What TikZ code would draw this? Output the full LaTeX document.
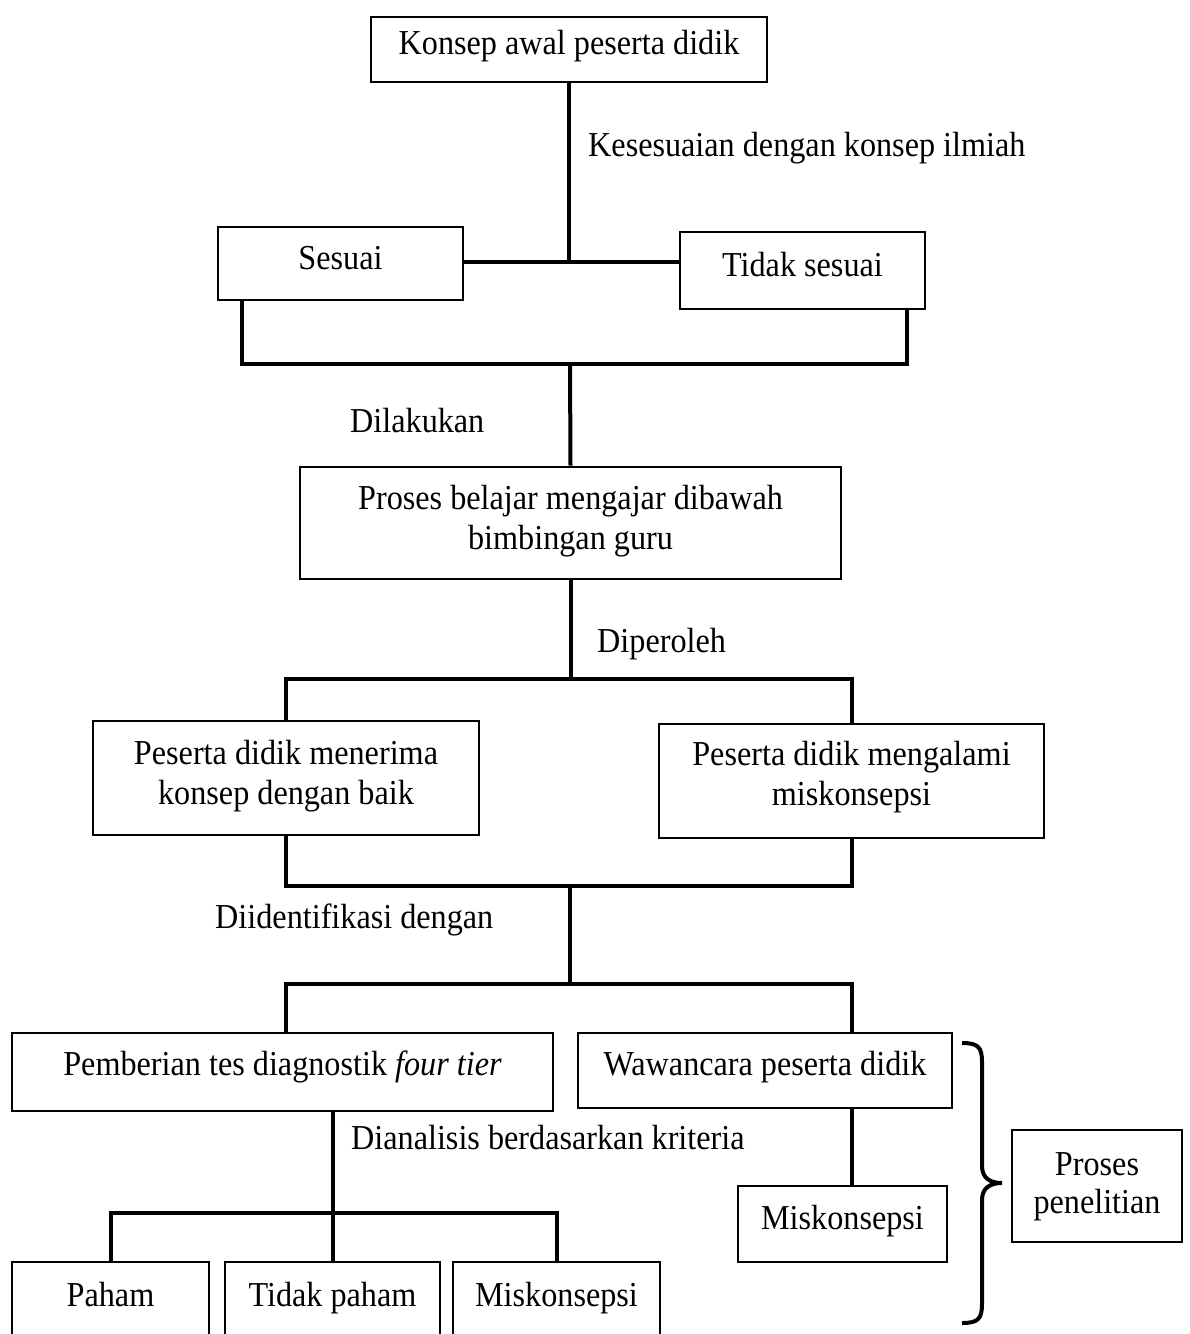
\documentclass[tikz,border=0pt]{standalone}
\usepackage{fontspec}
\setmainfont{Liberation Serif}[FakeStretch=0.92]
\newcommand{\twolines}[2]{\begin{tabular}[b]{@{}c@{}}#1\\#2\end{tabular}}
\begin{document}
\begin{tikzpicture}[x=1pt,y=-1pt,
  font=\fontsize{35}{40}\selectfont,
  box/.style={draw, line width=2.6pt, inner sep=0pt, anchor=base},
  conn/.style={line width=4pt},
  lbl/.style={inner sep=0pt, anchor=base west}]
\clip (0,0) rectangle (1190,1334);
\fill[white] (0,0) rectangle (1190,1334);

% boxes
\node[box, minimum width=396pt, text height=37pt, text depth=28pt] (k) at (569,54) {Konsep awal peserta didik};
\node[box, minimum width=245pt, text height=42pt, text depth=31pt] (s) at (340.5,269) {Sesuai};
\node[box, minimum width=245pt, text height=44pt, text depth=33pt] (t) at (802.5,276) {Tidak sesuai};
\node[box, minimum width=541pt, text height=82pt, text depth=30pt] (p) at (570.5,549) {\twolines{Proses belajar mengajar dibawah}{bimbingan guru}};
\node[box, minimum width=386pt, text height=83pt, text depth=31pt] (a) at (286,804) {\twolines{Peserta didik menerima}{konsep dengan baik}};
\node[box, minimum width=385pt, text height=81pt, text depth=33pt] (b) at (851.5,805) {\twolines{Peserta didik mengalami}{miskonsepsi}};
\node[box, minimum width=541pt, text height=42pt, text depth=36pt] (pm) at (282.5,1075) {Pemberian tes diagnostik \textit{four tier}};
\node[box, minimum width=374pt, text height=42pt, text depth=33pt] (ww) at (765,1075) {Wawancara peserta didik};
\node[box, minimum width=209pt, text height=43pt, text depth=33pt] (m2) at (842.5,1229) {Miskonsepsi};
\node[box, minimum width=170pt, text height=83pt, text depth=29pt] (pp) at (1097,1213) {\fontsize{35}{38}\selectfont\twolines{Proses}{penelitian}};
\node[box, minimum width=197pt, text height=44pt, text depth=74pt] (ph) at (110.5,1306) {Paham};
\node[box, minimum width=215pt, text height=44pt, text depth=74pt] (tp) at (332.5,1306) {Tidak paham};
\node[box, minimum width=207pt, text height=44pt, text depth=74pt] (mk) at (556.5,1306) {Miskonsepsi};

% labels
\node[lbl] (l1) at (588,156) {Kesesuaian dengan konsep ilmiah};
\node[lbl] (l2) at (350,432) {Dilakukan};
\node[lbl] (l3) at (597,652) {Diperoleh};
\node[lbl] (l4) at (215,928) {Diidentifikasi dengan};
\node[lbl] (l5) at (351,1149) {Dianalisis berdasarkan kriteria};

% connectors
\coordinate (j1) at (569,262);
\coordinate (j2) at (570,364);
\coordinate (j3) at (570,679);
\coordinate (j4) at (570,886);
\coordinate (j5) at (570,984);
\coordinate (d2) at (332.5,1213);
\draw[conn] (k.south) -- (j1);
\draw[conn] (s.east |- j1) -- (t.west |- j1);
\draw[conn] ([xshift=25pt]s.south west) |- (j2) -| ([xshift=-19pt]t.south east);
\draw[conn] (j2) -- (p.north);
\draw[conn] (p.south) -- (p.south |- j3);
\draw[conn] (a.north) |- (j3) -| (b.north);
\draw[conn] (a.south) |- (j4) -| (b.south);
\draw[conn] (j4) -- (j5);
\draw[conn] (pm.north -| a.south) |- (j5) -| (ww.north -| b.south);
\draw[conn] (pm.south -| d2) -- (d2);
\draw[conn] (ph.north) |- (d2) -| (mk.north);
\draw[conn] (d2) -- (tp.north);
\draw[conn] (ww.south -| b.south) -- (m2.north -| b.south);

% brace
\draw[conn] (962,1043) .. controls (978,1043) and (982,1047) .. (982,1062) -- (982,1166)
  .. controls (982,1178) and (990,1183) .. (1002,1183)
  .. controls (990,1183) and (982,1188) .. (982,1200) -- (982,1304)
  .. controls (982,1319) and (978,1323) .. (962,1323);
\end{tikzpicture}
\end{document}
